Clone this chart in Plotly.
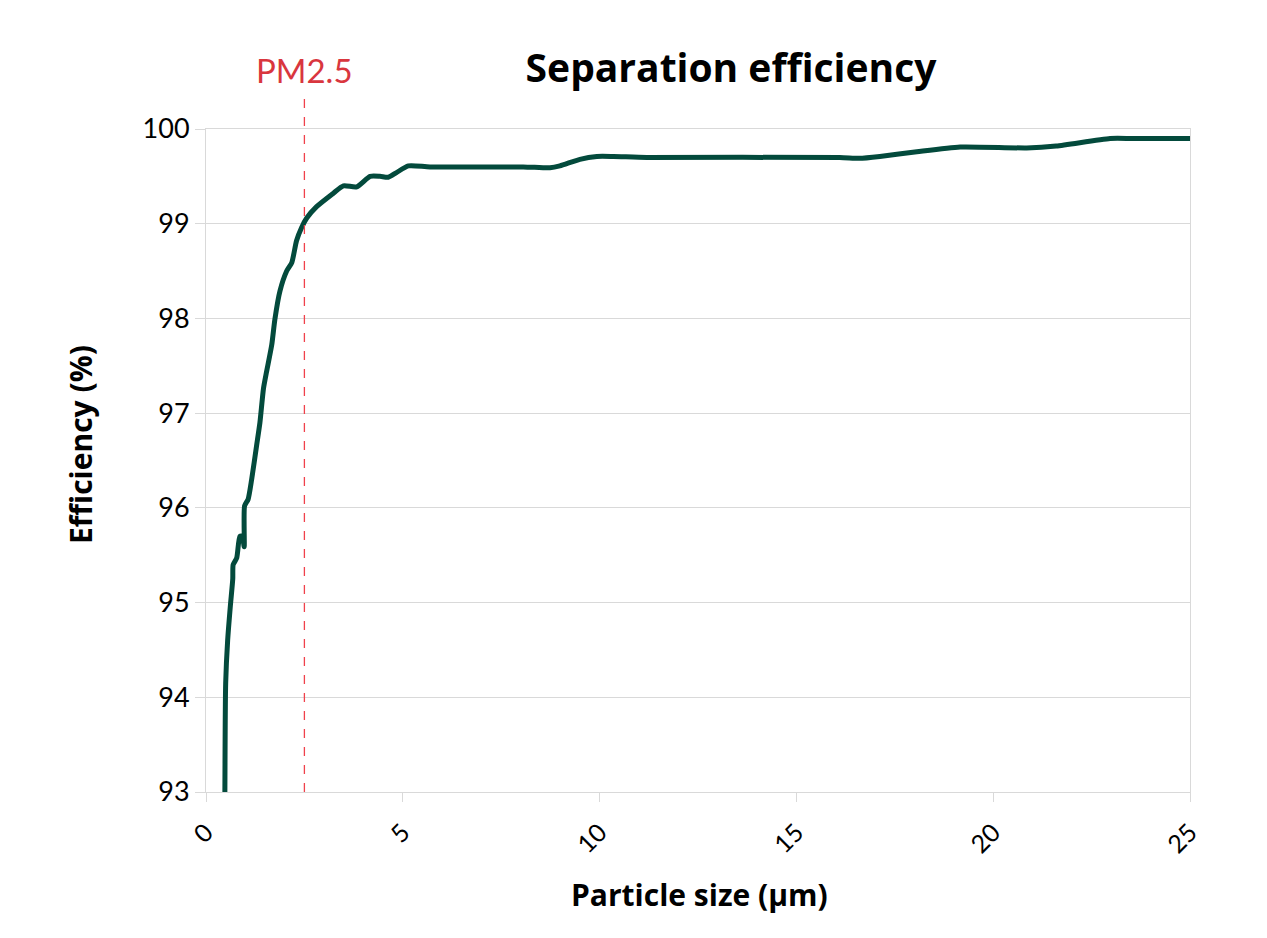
import plotly.graph_objects as go

particle_size = [0.48, 0.50, 0.55, 0.62, 0.68, 0.69, 0.78, 0.86, 0.92, 0.97, 0.98, 1.07, 1.16, 1.29,
                 1.37, 1.46, 1.54, 1.67, 1.75, 1.88, 2.05, 2.18, 2.30, 2.43, 2.56, 2.81, 3.23, 3.49,
                 3.83, 4.17, 4.42, 4.63, 4.84, 5.14, 5.69, 8.06, 8.74, 8.99, 9.50, 9.93, 10.35, 11.2,
                 16.1, 16.6, 17.12, 18.06, 19.16, 20.85, 21.6, 22.97, 23.55, 25.0]
efficiency = [93.0, 94.15, 94.6, 94.97, 95.25, 95.4, 95.47, 95.7, 95.7, 95.59, 96.02, 96.09, 96.3, 96.67,
              96.9, 97.26, 97.44, 97.72, 97.99, 98.29, 98.5, 98.59, 98.82, 98.96, 99.06, 99.18, 99.32, 99.40,
              99.39, 99.50, 99.50, 99.49, 99.54, 99.61, 99.60, 99.60, 99.59, 99.61, 99.68, 99.71, 99.71, 99.70,
              99.70, 99.69, 99.71, 99.76, 99.81, 99.80, 99.82, 99.90, 99.90, 99.90]

pm_x = 2.5
x_ticks = [0, 5, 10, 15, 20, 25]
y_ticks = [93, 94, 95, 96, 97, 98, 99, 100]

W, H = 1267, 938
ML, MR, MT, MB = 206, 77, 129, 146
PW, PH = W - ML - MR, H - MT - MB
FONT = "Lato"
BOLD = "Open Sans"
GRID = "#d9d9d9"


def px_x(px):
    return (px - ML) / PW


def px_y(py):
    return (H - MB - py) / PH


fig = go.Figure()
fig.add_trace(go.Scatter(
    x=particle_size, y=efficiency, mode="lines",
    line=dict(color="#034a3c", width=5, shape="spline", smoothing=0.6),
    showlegend=False, hoverinfo="x+y",
))

fig.add_shape(type="line", xref="x", yref="paper", x0=pm_x, x1=pm_x, y0=0, y1=px_y(94),
              line=dict(color="#f0414b", width=1.3, dash="dash"))
fig.add_annotation(x=pm_x, xref="x", y=px_y(70), yref="paper",
                   text="PM2.5", showarrow=False,
                   font=dict(family=FONT, size=33, color="#d9363e"), yanchor="middle")
# axis titles
fig.add_annotation(x=px_x(699), xref="paper", y=px_y(895), yref="paper",
                   text="<b>Particle size (µm)</b>", showarrow=False,
                   font=dict(family=BOLD, size=30, color="black"),
                   xanchor="center", yanchor="middle")
fig.add_annotation(x=px_x(80), xref="paper", y=px_y(445), yref="paper",
                   text="<b>Efficiency (%)</b>", showarrow=False, textangle=-90,
                   font=dict(family=BOLD, size=30, color="black"),
                   xanchor="center", yanchor="middle")

fig.update_layout(
    width=W, height=H,
    margin=dict(l=ML, r=MR, t=MT, b=MB),
    paper_bgcolor="white", plot_bgcolor="white",
    title=dict(text="<b>Separation efficiency</b>", x=731 / W, xanchor="center",
               y=1 - 68 / H, yanchor="middle",
               font=dict(family=BOLD, size=39, color="black")),
    font=dict(family=FONT, color="black"),
    xaxis=dict(range=[0, 25], tickvals=x_ticks, ticktext=[str(v) for v in x_ticks],
               tickangle=-45, tickfont=dict(size=25), showgrid=False, zeroline=False,
               showline=True, linecolor=GRID, linewidth=1, mirror=True,
               ticks="outside", ticklen=9, tickcolor=GRID, ticklabelstandoff=6),
    yaxis=dict(range=[93, 100], tickvals=y_ticks, ticktext=[str(v) for v in y_ticks],
               tickfont=dict(size=27), showgrid=True, gridcolor=GRID, gridwidth=1, zeroline=False,
               showline=True, linecolor=GRID, linewidth=1, mirror=True,
               ticks="outside", ticklen=10, tickcolor=GRID),
)

fig.write_html("out.html")
